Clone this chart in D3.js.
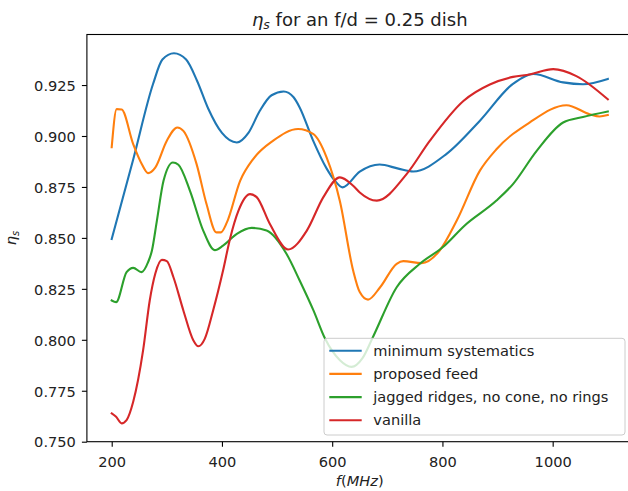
<!DOCTYPE html>
<html>
<head>
<meta charset="utf-8">
<script src="https://cdn.jsdelivr.net/npm/d3@7"></script>
<style>
  html, body { margin: 0; padding: 0; background: #fff; }
  svg { display: block; font-family: "DejaVu Sans", sans-serif; }
</style>
</head>
<body>
<svg id="chart" width="628" height="491"></svg>
<script>
// Spillover efficiency vs frequency for four feed designs (f/d = 0.25 dish)
const seriesNames = [
  "minimum systematics",
  "proposed feed",
  "jagged ridges, no cone, no rings",
  "vanilla"
];
const seriesColors = ["#1f77b4", "#ff7f0e", "#2ca02c", "#d62728"];

const minSysFreq = [200, 239, 275, 292, 313, 335, 355, 375, 400, 427, 448, 469, 490, 512, 530, 541, 565, 590, 605, 619, 650, 686, 720, 747, 807, 868, 928, 965, 1019, 1055, 1100];
const minSysEta  = [0.8495, 0.8885, 0.9255, 0.9375, 0.9406, 0.9375, 0.9270, 0.9135, 0.9015, 0.8968, 0.9015, 0.9125, 0.920, 0.9218, 0.919, 0.914, 0.898, 0.884, 0.878, 0.8748, 0.8825, 0.886, 0.884, 0.8826, 0.8911, 0.9075, 0.9256, 0.9304, 0.9263, 0.9254, 0.928];

const propFreq = [200, 209, 218, 239, 255, 266, 279, 300, 319, 330, 354, 372, 390, 398, 409, 433, 457, 493, 538, 566, 590, 614, 638, 650, 665, 687, 717, 729, 762, 795, 826, 868, 898, 958, 1025, 1067, 1085, 1100];
const propEta  = [0.8945, 0.9132, 0.913, 0.896, 0.886, 0.8818, 0.8845, 0.8977, 0.9042, 0.9025, 0.8862, 0.8666, 0.8527, 0.8527, 0.8576, 0.878, 0.8888, 0.8977, 0.9034, 0.9009, 0.8894, 0.868, 0.834, 0.8234, 0.8197, 0.8258, 0.8373, 0.8386, 0.8376, 0.8438, 0.8585, 0.883, 0.8935, 0.9066, 0.9151, 0.9107, 0.9096, 0.9103];

const jaggedFreq = [200, 208, 227, 239, 254, 266, 273, 282, 294, 311, 321, 342, 366, 387, 402, 427, 454, 481, 517, 541, 566, 587, 614, 635, 655, 674, 717, 759, 801, 840, 898, 928, 971, 1019, 1055, 1100];
const jaggedEta  = [0.8193, 0.8185, 0.8332, 0.8353, 0.8332, 0.8381, 0.8438, 0.8585, 0.878, 0.887, 0.8859, 0.8731, 0.8536, 0.844, 0.8462, 0.852, 0.8549, 0.8536, 0.8422, 0.8291, 0.8144, 0.8006, 0.790, 0.7867, 0.791, 0.8014, 0.8258, 0.8373, 0.8455, 0.8560, 0.8683, 0.8764, 0.8927, 0.9066, 0.9093, 0.912];

const vanillaFreq = [200, 208, 218, 227, 239, 257, 269, 279, 291, 300, 312, 330, 348, 357, 369, 384, 402, 415, 430, 451, 463, 487, 520, 554, 584, 614, 638, 650, 681, 735, 777, 838, 886, 928, 958, 1001, 1043, 1100];
const vanillaEta  = [0.7639, 0.7622, 0.759, 0.7606, 0.7696, 0.7949, 0.8193, 0.8324, 0.8392, 0.8386, 0.8307, 0.8144, 0.7998, 0.7968, 0.8006, 0.8144, 0.834, 0.850, 0.8634, 0.8715, 0.870, 0.8568, 0.8443, 0.8536, 0.870, 0.8797, 0.8756, 0.8723, 0.8683, 0.8813, 0.8976, 0.9172, 0.9253, 0.929, 0.9302, 0.9328, 0.9294, 0.918];

const xTicks = [200, 400, 600, 800, 1000];
const yTicks = [0.750, 0.775, 0.800, 0.825, 0.850, 0.875, 0.900, 0.925];

const freqSets = [minSysFreq, propFreq, jaggedFreq, vanillaFreq];
const etaSets  = [minSysEta, propEta, jaggedEta, vanillaEta];

// Plot frame
const plot = { left: 86.9, right: 632.6, top: 34.5, bottom: 441.7 };
const svg = d3.select("#chart");

const x = d3.scaleLinear().domain([155, 1145]).range([plot.left, plot.right]);
const y = d3.scaleLinear().domain([0.7500, 0.9498]).range([plot.bottom, plot.top]);

const tickFont = 14.6;
const textColor = "#222";

// Curves
const line = d3.line()
  .x(d => x(d[0]))
  .y(d => y(d[1]))
  .curve(d3.curveMonotoneX);

const series = seriesNames.map((name, i) => ({
  name,
  color: seriesColors[i],
  points: freqSets[i].map((f, j) => [f, etaSets[i][j]])
}));

svg.append("g")
  .selectAll("path")
  .data(series)
  .join("path")
  .attr("d", d => line(d.points))
  .attr("fill", "none")
  .attr("stroke", d => d.color)
  .attr("stroke-width", 2.1)
  .attr("stroke-linejoin", "round")
  .attr("stroke-linecap", "square");

// Axes
const xAxis = d3.axisBottom(x).tickValues(xTicks).tickFormat(d3.format("d"))
  .tickSizeInner(5).tickSizeOuter(0).tickPadding(6);
const yAxis = d3.axisLeft(y).tickValues(yTicks).tickFormat(d3.format(".3f"))
  .tickSizeInner(5).tickSizeOuter(0).tickPadding(6);

const gx = svg.append("g").attr("transform", `translate(0,${plot.bottom})`).call(xAxis);
const gy = svg.append("g").attr("transform", `translate(${plot.left},0)`).call(yAxis);

[gx, gy].forEach(g => {
  g.select(".domain").remove();
  g.selectAll(".tick line").attr("stroke", "#000").attr("stroke-width", 1.1);
  g.selectAll(".tick text")
    .attr("fill", textColor)
    .style("font-size", tickFont + "px")
    .style("font-family", "DejaVu Sans");
});
gx.selectAll(".tick text").attr("dy", null).attr("y", 25);
gy.selectAll(".tick text").attr("dy", "0.36em");

// Spines
svg.append("rect")
  .attr("x", plot.left).attr("y", plot.top)
  .attr("width", plot.right - plot.left).attr("height", plot.bottom - plot.top)
  .attr("fill", "none").attr("stroke", "#000").attr("stroke-width", 1.1);

// Title
const title = svg.append("text")
  .attr("x", (plot.left + plot.right) / 2).attr("y", 26)
  .attr("text-anchor", "middle")
  .attr("fill", textColor)
  .style("font-size", "18px");
title.append("tspan").style("font-style", "italic").text("η");
title.append("tspan").style("font-style", "italic").style("font-size", "12.5px").attr("dy", 3).text("s");
title.append("tspan").attr("dy", -3).text(" for an f/d = 0.25 dish");

// X label
const xl = svg.append("text")
  .attr("x", (plot.left + plot.right) / 2).attr("y", 486)
  .attr("text-anchor", "middle")
  .attr("fill", textColor)
  .style("font-size", tickFont + "px");
xl.append("tspan").style("font-style", "italic").text("f");
xl.append("tspan").text("(");
xl.append("tspan").style("font-style", "italic").text("MHz");
xl.append("tspan").text(")");

// Y label
const yl = svg.append("text")
  .attr("transform", `translate(16,${(plot.top + plot.bottom) / 2}) rotate(-90)`)
  .attr("text-anchor", "middle")
  .attr("fill", textColor)
  .style("font-size", tickFont + "px");
yl.append("tspan").style("font-style", "italic").text("η");
yl.append("tspan").style("font-style", "italic").style("font-size", "10px").attr("dy", 2.5).text("s");

// Legend
const legend = { x: 324, y: 338.3, w: 301, h: 96.7, rowStart: 350.7, rowStep: 23.2 };
const lg = svg.append("g");
lg.append("rect")
  .attr("x", legend.x).attr("y", legend.y)
  .attr("width", legend.w).attr("height", legend.h)
  .attr("rx", 3).attr("ry", 3)
  .attr("fill", "rgba(255,255,255,0.8)")
  .attr("stroke", "#cccccc").attr("stroke-width", 1);

const rows = lg.selectAll("g.row").data(series).join("g")
  .attr("class", "row")
  .attr("transform", (d, i) => `translate(0,${legend.rowStart + i * legend.rowStep})`);
rows.append("line")
  .attr("x1", 329.3).attr("x2", 361.7)
  .attr("stroke", d => d.color).attr("stroke-width", 2.1);
rows.append("text")
  .attr("x", 373.3).attr("dy", "0.35em")
  .attr("fill", textColor)
  .style("font-size", tickFont + "px")
  .text(d => d.name);
</script>
</body>
</html>
